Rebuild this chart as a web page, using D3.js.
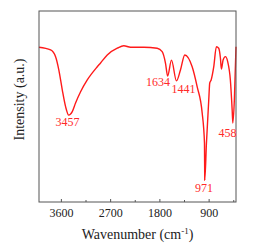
<!DOCTYPE html>
<html lang="en">
<head>
    <meta charset="UTF-8">
    <title>FTIR</title>
    <script type="text/javascript" src="https://cdn.jsdelivr.net/npm/d3@7"></script>
    <style type="text/css">
        body { margin: 0; background: #fff; }
        text { font-family: "Liberation Serif", "DejaVu Serif", serif; }
    </style>
</head>
<body>
    <script type="text/javascript">

        // spectrum (wavenumber, relative intensity)
        var wavenumber = [4000, 3788, 3697, 3637, 3574, 3514, 3457, 3392, 3332, 3240, 3118, 2935, 2875, 2753,
            2570, 2450, 2327, 2084, 1840, 1749, 1688, 1650, 1579, 1488, 1415, 1336, 1201, 1110, 1018, 976,
            971, 940, 898, 880, 854, 807, 758, 716, 685, 667, 636, 594, 552, 503, 470, 458, 430, 400];
        var intensity = [81.0, 79.6, 76.1, 69.1, 58.6, 49.9, 45.5, 47.3, 51.8, 57.7, 63.9, 70.8, 72.8, 77.0,
            80.5, 81.8, 81.0, 81.0, 80.5, 78.7, 72.6, 66.0, 74.3, 63.4, 69.1, 77.0, 70.8, 60.4, 46.6, 30.9,
            11.5, 30.9, 53.4, 62.3, 63.9, 70.7, 81.3, 80.5, 75.4, 69.6, 74.3, 76.1, 73.5, 63.9, 48.2, 41.4, 53.4, 81.3];

        // peak labels and where they sit (wavenumber, intensity of the baseline)
        var peakLabels = ["3457", "1634", "1441", "971", "458"];
        var peakX = [3479, 1825, 1359, 985, 555];
        var peakY = [39.8, 60.7, 57.1, 5.2, 34.0];

        var xTicks = [3600, 2700, 1800, 900];
        var xMinor = [3150, 2250, 1350, 450];

        //Width and height
        var w = 255;
        var h = 246;
        var mLeft = 39, mRight = 236, mTop = 11, mBottom = 202;

        var svg = d3.select("body")
            .append("svg")
            .attr("width", w)
            .attr("height", h);

        var x = d3.scaleLinear().domain([4000, 400]).range([mLeft, mRight]);
        var y = d3.scaleLinear().domain([0, 100]).range([mBottom, mTop]);

        var data = wavenumber.map(function(d, i) { return [d, intensity[i]]; });

        var line = d3.line()
            .x(function(d) { return x(d[0]); })
            .y(function(d) { return y(d[1]); })
            .curve(d3.curveMonotoneX);

        svg.append("path")
            .datum(data.slice().reverse())
            .attr("d", line)
            .attr("fill", "none")
            .attr("stroke", "#ff1a1a")
            .attr("stroke-width", 1.4);

        // frame
        svg.append("rect")
            .attr("x", mLeft)
            .attr("y", mTop)
            .attr("width", mRight - mLeft)
            .attr("height", mBottom - mTop)
            .attr("fill", "none")
            .attr("stroke", "#555")
            .attr("stroke-width", 1);

        var xAxis = d3.axisBottom(x)
            .tickValues(xTicks)
            .tickFormat(d3.format("d"))
            .tickSize(-3)
            .tickPadding(6);

        var gx = svg.append("g")
            .attr("transform", "translate(0," + mBottom + ")")
            .call(xAxis);
        gx.select(".domain").remove();
        gx.selectAll("line").attr("stroke", "#555");
        gx.selectAll("text")
            .attr("font-family", "Liberation Serif")
            .attr("font-size", "12px")
            .attr("fill", "#222");

        svg.append("g")
            .attr("transform", "translate(0," + mBottom + ")")
            .call(d3.axisBottom(x).tickValues(xMinor).tickSize(-2).tickFormat(""))
            .call(function(g) { g.select(".domain").remove(); g.selectAll("line").attr("stroke", "#555"); });

        // peak labels
        svg.selectAll(".peak")
            .data(peakLabels)
            .enter()
            .append("text")
            .attr("class", "peak")
            .text(function(d) { return d; })
            .attr("x", function(d, i) { return x(peakX[i]); })
            .attr("y", function(d, i) { return y(peakY[i]); })
            .attr("text-anchor", "middle")
            .attr("font-size", "12px")
            .attr("fill", "#ff2a2a");

        // axis titles
        var xt = svg.append("text")
            .attr("x", (mLeft + mRight) / 2)
            .attr("y", 239)
            .attr("text-anchor", "middle")
            .attr("font-size", "14px")
            .attr("fill", "#222")
            .text("Wavenumber (cm");
        xt.append("tspan").attr("dy", -5).attr("font-size", "9px").text("-1");
        xt.append("tspan").attr("dy", 5).text(")");

        svg.append("text")
            .attr("transform", "translate(24," + ((mTop + mBottom) / 2 - 7) + ") rotate(-90)")
            .attr("text-anchor", "middle")
            .attr("font-size", "14px")
            .attr("fill", "#222")
            .text("Intensity (a.u.)");

        </script>
</body>
</html>
